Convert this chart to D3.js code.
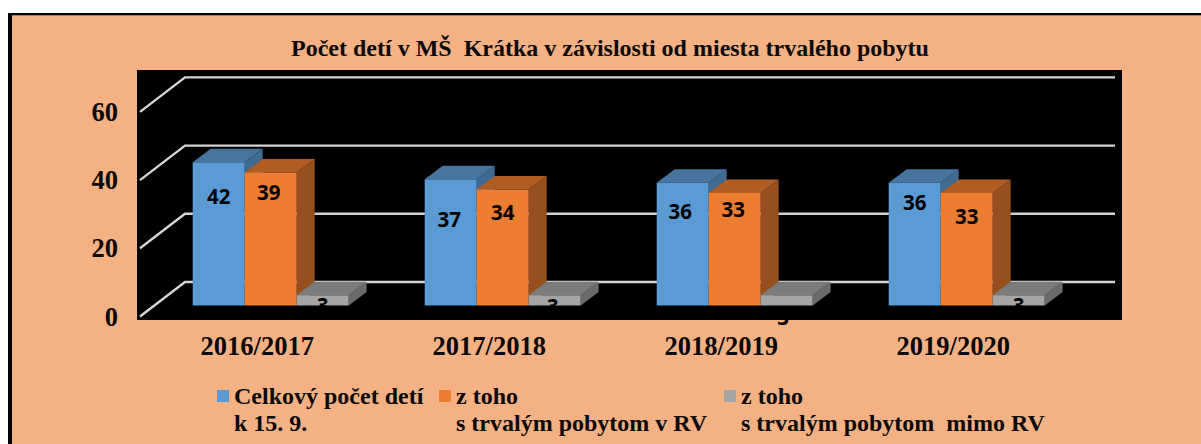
<!DOCTYPE html>
<html lang="sk"><head><meta charset="utf-8">
<style>html,body{margin:0;padding:0;background:#fff}svg{display:block}text{font-family:"Liberation Serif",serif;font-weight:bold;fill:#0a0a0a}</style>
<script src="https://cdnjs.cloudflare.com/ajax/libs/d3/7.8.5/d3.min.js"></script>
</head><body><svg id="c" width="1201" height="444"></svg>
<script>
const chartTitle = "Počet detí v MŠ  Krátka v závislosti od miesta trvalého pobytu";
const categories = ["2016/2017","2017/2018","2018/2019","2019/2020"];
const seriesNames = ["total","resident","nonresident"];
const totalChildren = [42,37,36,36];
const residentChildren = [39,34,33,33];
const nonResidentChildren = [3,3,3,3];
const yTicks = [0,20,40,60];
const legendLine1 = ["Celkový počet detí","z toho","z toho"];
const legendLine2 = ["k 15. 9.","s trvalým pobytom v RV","s trvalým pobytom  mimo RV"];

// layout & style (separate from the data)
const W=1201,H=444, depthX=18, depthY=13.5;
const wallX=45, wallY=34.5;
const colors=[{f:"#5B9BD5",t:"#4775A0",s:"#3F6A92"},{f:"#ED7D31",t:"#B15C23",s:"#96501F"},{f:"#A5A5A5",t:"#7C7C7C",s:"#6B6B6B"}];
const labelDx=[[0,-1.5,-2.5,0],[-2,0,-1.5,0],[0,-2,-3.5,0]];
const labelDy=[[35,40,29,20],[20,23,17,24],[11,12,23,11]];
const legendSwatchX=[217,439,724], legendTextX=[234,456,741];

const svg=d3.select("#c");
svg.append("rect").attr("x",8).attr("y",13).attr("width",W-8).attr("height",H-13).attr("fill","#000");
svg.append("rect").attr("x",12).attr("y",15.3).attr("width",W-12).attr("height",H-15).attr("fill","#F4B183");
svg.append("rect").attr("x",137).attr("y",70).attr("width",985).attr("height",250).attr("fill","#000");

svg.append("text").attr("x",610).attr("y",56).attr("text-anchor","middle").attr("font-size",24).style("white-space","pre").text(chartTitle);

const y=d3.scaleLinear().domain([0,60]).range([305.5,100.9]);
const x=d3.scaleBand().domain(categories).range([154.7,1082.7]).paddingInner(76/232).paddingOuter(38/232);
const xs=d3.scaleBand().domain(seriesNames).range([0,x.bandwidth()]);

// gridlines on the back and side walls
const gridBack=v=>y(v)-23.5;
const grid=svg.append("g").attr("fill","none").attr("stroke","#D4D4D4").attr("stroke-width",2.4);
yTicks.forEach(v=>{
  grid.append("path").attr("d",d3.line()([[140,gridBack(v)+wallY],[140+wallX,gridBack(v)],[1115,gridBack(v)]]));
});

// axes
const yAxis=d3.axisLeft(y).tickValues(yTicks).tickSize(0).tickPadding(0);
const gy=svg.append("g").attr("transform","translate(118,11)").call(yAxis);
gy.select(".domain").remove();
gy.selectAll("text").attr("font-size",26.5).attr("dy",0).attr("y",8.5).style("font-family",'"Liberation Serif",serif').style("fill","#0a0a0a");
gy.attr("font-family",null).attr("font-size",null);

const xAxis=d3.axisBottom(x).tickSize(0).tickPadding(0);
const gx=svg.append("g").attr("transform","translate(-13.5,355)").call(xAxis);
gx.select(".domain").remove();
gx.selectAll("text").attr("font-size",26.5).attr("dy",0).attr("y",0).style("font-family",'"Liberation Serif",serif').style("fill","#0a0a0a");
gx.attr("font-family",null).attr("font-size",null);

// bars
const seriesValues=[totalChildren,residentChildren,nonResidentChildren];
const barsG=svg.append("g");
categories.forEach((c,ci)=>{
  seriesNames.forEach((s,si)=>{
    const v=seriesValues[si][ci], col=colors[si];
    const x0=x(c)+xs(s), x1=x0+xs.bandwidth(), yt=y(v), yb=y(0);
    const g=barsG.append("g");
    g.append("polygon").attr("points",[[x1,yt],[x1+depthX,yt-depthY],[x1+depthX,yb-depthY],[x1,yb]].join(" ")).attr("fill",col.s);
    g.append("polygon").attr("points",[[x0,yt],[x0+depthX,yt-depthY],[x1+depthX,yt-depthY],[x1,yt]].join(" ")).attr("fill",col.t);
    g.append("rect").attr("x",x0).attr("y",yt).attr("width",x1-x0).attr("height",yb-yt).attr("fill",col.f);
  });
});
// data labels
const labelsG=svg.append("g");
categories.forEach((c,ci)=>{
  seriesNames.forEach((s,si)=>{
    const v=seriesValues[si][ci];
    labelsG.append("text").attr("x",x(c)+xs(s)+xs.bandwidth()/2+labelDx[si][ci]).attr("y",y(v)+labelDy[si][ci])
      .attr("dy","0.35em").attr("text-anchor","middle").attr("font-size",20.5)
      .style("font-family",'"Open Sans","Noto Sans",sans-serif').style("fill","#000").text(v);
  });
});

// legend
const lg=svg.append("g");
seriesNames.forEach((s,i)=>{
  lg.append("rect").attr("x",legendSwatchX[i]).attr("y",390).attr("width",12).attr("height",12).attr("fill",colors[i].f);
  lg.append("text").attr("x",legendTextX[i]).attr("y",404).attr("font-size",24).text(legendLine1[i]);
  lg.append("text").attr("x",legendTextX[i]).attr("y",431).attr("font-size",24).style("white-space","pre").text(legendLine2[i]);
});
</script></body></html>
